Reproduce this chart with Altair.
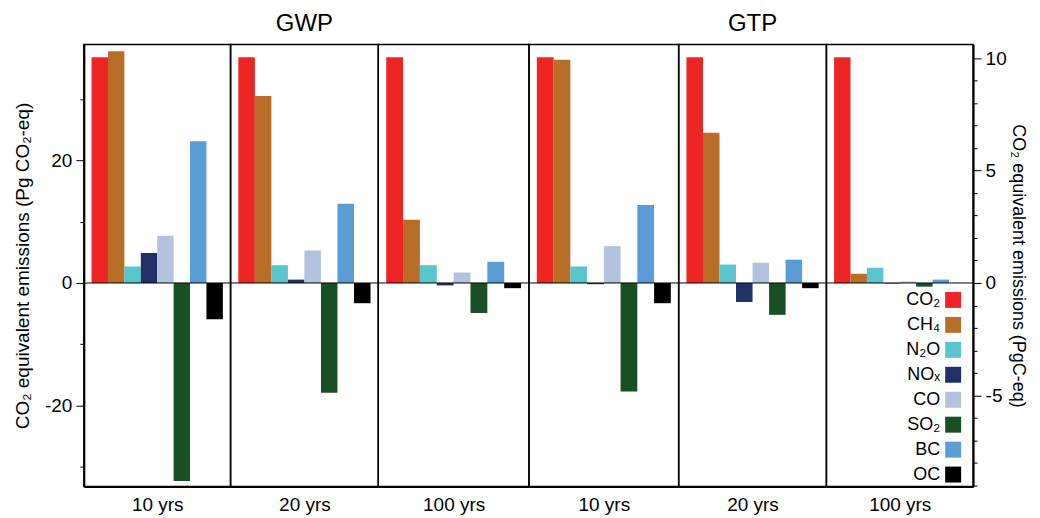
import altair as alt
import pandas as pd

FONT = "Liberation Sans"

species = ["CO2", "CH4", "N2O", "NOx", "CO", "SO2", "BC", "OC"]
labels = ["CO₂", "CH₄", "N₂O", "NOₓ", "CO", "SO₂", "BC", "OC"]
colors = ["#EE2425", "#B96E27", "#59C5CD", "#213167", "#B3C2DD", "#185026", "#599CD6", "#000000"]

metrics = ["GWP", "GWP", "GWP", "GTP", "GTP", "GTP"]
horizons = ["10 yrs", "20 yrs", "100 yrs", "10 yrs", "20 yrs", "100 yrs"]

gwp_10 = [36.8, 37.8, 2.7, 4.9, 7.7, -32.3, 23.1, -5.9]
gwp_20 = [36.8, 30.5, 2.9, 0.55, 5.3, -17.9, 12.9, -3.3]
gwp_100 = [36.8, 10.3, 2.9, -0.4, 1.7, -4.9, 3.45, -0.85]
gtp_10 = [36.8, 36.4, 2.7, -0.2, 6.0, -17.7, 12.7, -3.3]
gtp_20 = [36.8, 24.5, 3.0, -3.1, 3.3, -5.2, 3.8, -0.85]
gtp_100 = [36.8, 1.5, 2.5, -0.1, 0.25, -0.6, 0.55, 0.0]
panel_values = [gwp_10, gwp_20, gwp_100, gtp_10, gtp_20, gtp_100]

left_ticks = [-30, -25, -20, -15, -10, -5, 0, 5, 10, 15, 20, 25, 30, 35]
right_ticks = [-9, -8, -7, -6, -5, -4, -3, -2, -1, 0, 1, 2, 3, 4, 5, 6, 7, 8, 9, 10]

Y_MIN, Y_MAX = -33.2, 38.9
C_PER_CO2 = 12.0 / 44.0

panel_widths = [147, 148, 151, 150, 148, 147]
PANEL_H = 443

left_axis = alt.Axis(
    values=left_ticks,
    labelExpr="datum.value % 20 === 0 ? '' + datum.value : ''",
    tickSize={"condition": {"test": "datum.value % 20 === 0", "value": 8}, "value": 4},
    tickColor="black", tickWidth=1, labelPadding=4,
    labelFontSize=19, labelColor="black", labelFont=FONT,
    domainColor="black", domainWidth=2, grid=False,
    title="CO₂ equivalent emissions (Pg CO₂-eq)",
    titleFontSize=19, titleFontWeight="normal", titleColor="black", titleFont=FONT,
    titlePadding=12,
)

right_axis = alt.Axis(
    orient="right",
    values=right_ticks,
    labelExpr="datum.value % 5 === 0 ? '' + datum.value : ''",
    tickSize={"condition": {"test": "datum.value % 5 === 0", "value": 8}, "value": 4},
    tickColor="black", tickWidth=1, labelPadding=4,
    labelFontSize=19, labelColor="black", labelFont=FONT,
    domainColor="black", domainWidth=2, grid=False,
    title="CO₂ equivalent emissions (PgC-eq)",
    titleFontSize=18, titleFontWeight="normal", titleColor="black", titleFont=FONT,
    titlePadding=2,
)

legend = alt.Legend(
    orient="none", legendX=118, legendY=247, title=None,
    symbolType="square", symbolSize=256, symbolStrokeWidth=0, symbolOpacity=1,
    labelFontSize=18, labelFont=FONT, labelColor="black",
    labelAlign="right", labelOffset={"expr": "-22"}, rowPadding=7, padding=0,
)

charts = []
for i, vals in enumerate(panel_values):
    df = pd.DataFrame({"species": species, "label": labels, "value": vals})
    base = alt.Chart(df)
    y_scale = alt.Scale(domain=[Y_MIN, Y_MAX], nice=False, zero=False)
    bars = base.mark_bar(opacity=1).encode(
        x=alt.X(
            "species:N", sort=species,
            scale=alt.Scale(paddingInner=0, paddingOuter=0.47),
            axis=alt.Axis(
                labels=False, ticks=False, domain=True, domainColor="black", domainWidth=2,
                title=horizons[i], titleFontSize=19, titleFontWeight="normal",
                titleColor="black", titleFont=FONT, titlePadding=9,
            ),
        ),
        y=alt.Y("value:Q", scale=y_scale, axis=left_axis if i == 0 else None),
        color=alt.Color(
            "label:N", sort=labels,
            scale=alt.Scale(domain=labels, range=colors),
            legend=legend if i == 5 else None,
        ),
    )
    zero = alt.Chart(pd.DataFrame({"zero": [0]})).mark_rule(color="black", strokeWidth=1).encode(
        y=alt.Y("zero:Q", scale=y_scale)
    )
    inner = alt.layer(bars, zero)
    if i == 5:
        right = base.transform_calculate(pgc=f"datum.value * {C_PER_CO2}").mark_point(opacity=0).encode(
            y=alt.Y("pgc:Q", scale=alt.Scale(domain=[Y_MIN * C_PER_CO2, Y_MAX * C_PER_CO2], nice=False, zero=False),
                    axis=right_axis)
        )
        panel = alt.layer(inner, right).resolve_scale(y="independent")
    else:
        panel = inner
    title_text = metrics[i] if i in (1, 4) else " "
    panel = panel.properties(
        width=panel_widths[i], height=PANEL_H,
        title=alt.TitleParams(title_text, fontSize=24, fontWeight="normal", font=FONT,
                              color="black", anchor="middle", offset=8),
    )
    charts.append(panel)

chart = alt.hconcat(*charts, spacing=0, bounds="flush").resolve_scale(
    y="independent", color="independent", x="independent"
).properties(
    padding={"left": 4, "top": 3, "right": 5, "bottom": 0}
).configure(font=FONT).configure_view(
    stroke="black", strokeWidth=1.5
).configure_concat(spacing=0)

chart.save("out.html", embed_options={"renderer": "svg", "actions": False})
